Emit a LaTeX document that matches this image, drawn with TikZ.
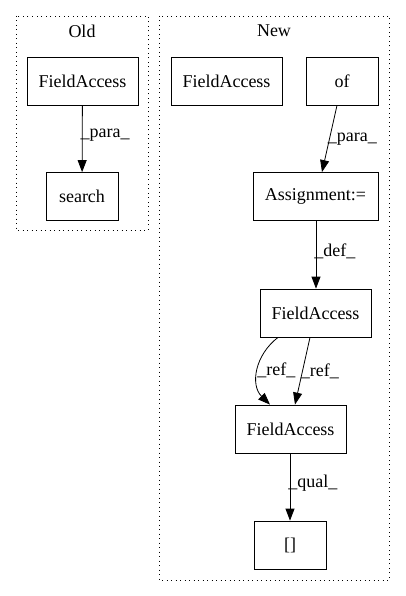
\documentclass[tikz,border=0pt]{standalone}
\usepackage{fontspec}
\setmainfont{Liberation Serif}
\usetikzlibrary{arrows.meta}
\begin{document}
\begin{tikzpicture}[x=1pt,y=-1pt,
  box/.style={draw,line width=0.8pt,minimum height=48pt,inner sep=0pt,font=\fontsize{18}{20}\selectfont},
  cluster/.style={draw,line width=0.9pt,dash pattern=on 1pt off 3.5pt},
  edge/.style={line width=0.8pt,-{Triangle[length=12pt,width=9pt]}},
  elab/.style={font=\fontsize{18}{20}\selectfont,inner sep=1pt},
  ctitle/.style={font=\fontsize{18}{20}\selectfont,inner sep=0pt}]
\useasboundingbox (0,0) rectangle (405,596);
\draw[cluster] (16,16) rectangle (148,230);
\draw[cluster] (159,16) rectangle (389,580);
\node[ctitle] (told) at (82,31) {Old};
\node[ctitle] (tnew) at (274,31) {New};
\node[box,minimum width=111pt] (ofa) at (82.5,81) {FieldAccess};
\node[box,minimum width=72pt] (search) at (82,196.5) {search};
\node[box,minimum width=111pt] (nfa) at (226.5,81) {FieldAccess};
\node[box,minimum width=72pt] (of) at (342,81) {of};
\node[box,minimum width=125pt] (asg) at (315.5,196.5) {Assignment:=};
\node[box,minimum width=111pt] (fa1) at (315.5,313) {FieldAccess};
\node[box,minimum width=111pt] (fa2) at (290.5,429) {FieldAccess};
\node[box,minimum width=72pt] (br) at (290,545) {[]};
\draw[edge] (ofa) -- node[elab,right,pos=0.45,xshift=-3pt] {\_para\_} (search);
\draw[edge] (of.south-|337,0) -- node[elab,right,pos=0.5,xshift=-3pt] {\_para\_} (asg.north-|322,0);
\draw[edge] (asg.south-|316,0) -- node[elab,right,pos=0.45,xshift=-3pt] {\_def\_} (fa1.north-|316,0);
\draw[edge] (fa1.south-|278,0) .. controls (255,355) and (250,385) .. node[elab,right,pos=0.5,xshift=-2pt] {\_ref\_} (fa2.north-|270,0);
\draw[edge] (fa1.south-|310,0) -- node[elab,right,pos=0.5,xshift=-3pt] {\_ref\_} (fa2.north-|295,0);
\draw[edge] (fa2.south-|290,0) -- node[elab,right,pos=0.45,xshift=-3pt] {\_qual\_} (br.north-|290,0);
\end{tikzpicture}
\end{document}
